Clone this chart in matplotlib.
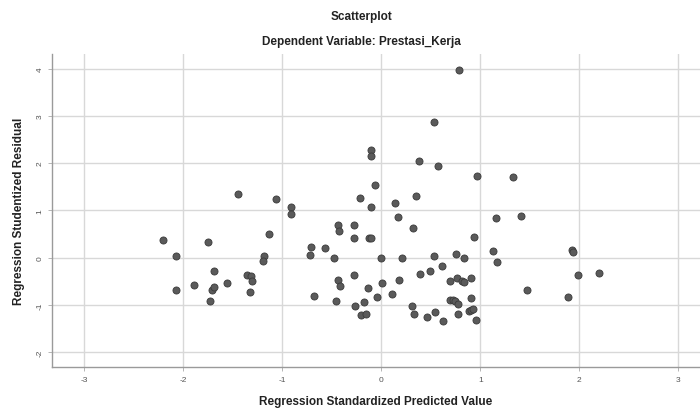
import matplotlib.pyplot as plt

plt.rcParams['font.family'] = ['Liberation Sans', 'DejaVu Sans']

# Regression Standardized Predicted Value
pred = [-2.21, -2.08, -2.07, -1.89, -1.75, -1.73, -1.71, -1.69, -1.69, -1.56,
        -1.45, -1.36, -1.32, -1.31, -1.33, -1.19, -1.20, -1.14, -1.06, -0.91,
        -0.91, -0.71, -0.72, -0.57, -0.68, -0.48, -0.46, -0.44, -0.42, -0.44,
        -0.43, -0.28, -0.28, -0.28, -0.27, -0.21, -0.18, -0.15, -0.13, -0.12,
        -0.10, -0.22, -0.10, -0.10, -0.10, -0.06, -0.04, 0.00, 0.01, 0.11,
        0.14, 0.17, 0.18, 0.21, 0.31, 0.33, 0.32, 0.35, 0.38, 0.39,
        0.46, 0.49, 0.53, 0.53, 0.54, 0.57, 0.61, 0.62, 0.69, 0.76,
        0.81, 0.84, 0.91, 0.69, 0.72, 0.74, 0.77, 0.75, 0.84, 0.77,
        0.78, 0.89, 0.91, 0.93, 0.91, 0.94, 0.96, 0.97, 1.13, 1.17,
        1.16, 1.33, 1.41, 1.47, 1.89, 1.93, 1.94, 1.99, 2.20]

# Regression Studentized Residual
resid = [0.37, 0.04, -0.69, -0.58, 0.32, -0.91, -0.69, -0.63, -0.29, -0.54,
         1.35, -0.37, -0.38, -0.50, -0.73, 0.04, -0.07, 0.50, 1.24, 1.06,
         0.92, 0.23, 0.06, 0.20, -0.82, -0.01, -0.91, -0.48, -0.60, 0.68,
         0.57, 0.69, 0.41, -0.36, -1.02, -1.21, -0.94, -1.20, -0.65, 0.41,
         0.41, 1.27, 1.06, 2.28, 2.15, 1.54, -0.84, -0.01, -0.53, -0.77,
         1.15, 0.86, -0.48, 0.00, -1.02, -1.20, 0.63, 1.31, 2.04, -0.34,
         -1.25, -0.28, 0.03, 2.86, -1.16, 1.94, -0.17, -1.35, -0.49, -0.44,
         -0.49, -0.51, -0.43, -0.90, -0.89, -0.92, -0.98, 0.07, -0.01, -1.19,
         3.96, -1.13, -1.10, -1.08, -0.86, 0.44, -1.33, 1.73, 0.13, -0.10,
         0.84, 1.70, 0.89, -0.69, -0.84, 0.17, 0.12, -0.37, -0.32]

xticks = [-3, -2, -1, 0, 1, 2, 3]
yticks = [-2, -1, 0, 1, 2, 3, 4]

fig = plt.figure(figsize=(7, 4.1), dpi=100)
ax = fig.add_axes([0.074, 0.102, 0.926, 0.764])

ax.scatter(pred, resid, s=26, facecolor='#5a5a5a', edgecolor='#3a3a3a',
           linewidth=0.6, zorder=3)

ax.set_xlim(-3.33, 3.22)
ax.set_ylim(-2.32, 4.31)
ax.set_xticks(xticks)
ax.set_yticks(yticks)
ax.set_xticklabels([str(t) for t in xticks], fontsize=6, color='#555555')
ax.set_yticklabels([str(t) for t in yticks], fontsize=6, color='#555555',
                   rotation=90, va='center')
ax.tick_params(length=3, width=0.6, color='#aaaaaa', pad=3)
ax.grid(True, color='#d8d8d8', linewidth=1.0, zorder=0)
ax.set_axisbelow(True)

for s in ['top', 'right']:
    ax.spines[s].set_visible(False)
for s in ['left', 'bottom']:
    ax.spines[s].set_color('#9a9a9a')
    ax.spines[s].set_linewidth(1.0)

ax.set_xlabel('Regression Standardized Predicted Value', fontsize=8.5,
              fontweight='bold', color='#222222', labelpad=9)
ax.set_ylabel('Regression Studentized Residual', fontsize=8.5,
              fontweight='bold', color='#222222', labelpad=8)

fig.text(0.516, 0.958, 'Scatterplot', ha='center', va='center',
         fontsize=8.5, fontweight='bold', color='#222222')
fig.text(0.516, 0.897, 'Dependent Variable: Prestasi_Kerja', ha='center',
         va='center', fontsize=8.5, fontweight='bold', color='#222222')

fig.savefig('out.png', dpi=100)
